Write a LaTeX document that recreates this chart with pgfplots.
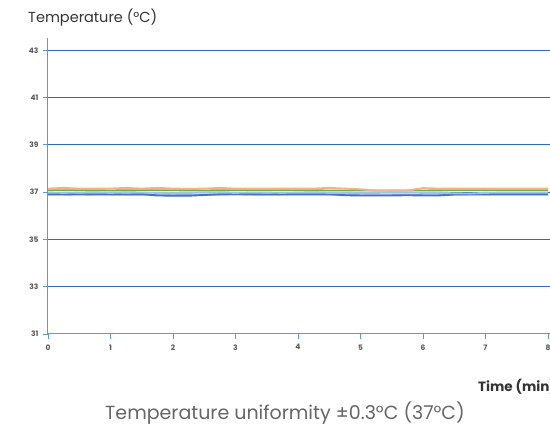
\documentclass[border=0pt]{standalone}
\usepackage{pgfplots}
\pgfplotsset{compat=1.18}
\usepackage{fontspec}
\setmainfont{Poppins}
\definecolor{axisblue}{HTML}{5B9BD5}
\definecolor{gridblue}{HTML}{2E6DB4}
\definecolor{lorange}{HTML}{F4B183}
\definecolor{lgreen}{HTML}{70AD47}
\definecolor{lblue}{HTML}{9DC3E6}
\definecolor{dblue}{HTML}{4472C4}
\definecolor{lav}{HTML}{B4C0E4}
\definecolor{txt}{HTML}{404040}
\begin{document}
\begin{tikzpicture}
\useasboundingbox (0,0) rectangle (550pt,-428pt);
\clip (0,0) rectangle (550pt,-428pt);
\begin{axis}[
  at={(48pt,-334pt)}, anchor=south west,
  scale only axis, width=502.5pt, height=296pt,
  xmin=0, xmax=8.04, ymin=31, ymax=43.52,
  xtick={0,1,2,3,4,5,6,7,8},
  ytick={31,33,35,37,39,41,43},
  extra y ticks={33,35,37,39,41,43},
  extra y tick labels={},
  extra y tick style={grid=major, major tick length=0pt},
  axis x line=bottom, axis y line=left,
  axis line style={draw=axisblue, line width=1pt, -},
  tick style={draw=axisblue, line width=0.8pt},
  tick align=outside, major tick length=5pt,
  major grid style={draw=gridblue, line width=0.8pt},
  /pgf/number format/assume math mode=true,
  ticklabel style={font=\fontsize{7.5}{9}\selectfont\bfseries, text=black!65},
  yticklabel style={xshift=-1pt},
  xticklabel style={yshift=-2pt},
  every axis plot/.append style={line width=1.9pt, no markers},
]
\addplot[lav] coordinates {
(0,36.88)(0.5,36.89)(1,36.88)(1.5,36.88)(2,36.87)(2.5,36.88)(3,36.89)(3.5,36.88)(4,36.88)(4.5,36.88)(5,36.87)(5.5,36.88)(6,36.88)(6.5,36.89)(7,36.88)(7.5,36.88)(8,36.88)};
\addplot[dblue] coordinates {
(0,36.93)(0.25,36.92)(0.5,36.91)(0.75,36.92)(1,36.92)(1.25,36.91)(1.5,36.92)(1.75,36.86)(2,36.85)(2.25,36.85)(2.5,36.88)(2.75,36.92)(3,36.92)(3.25,36.92)(3.5,36.91)(3.75,36.92)(4,36.92)(4.25,36.92)(4.5,36.92)(4.75,36.87)(5,36.86)(5.25,36.86)(5.5,36.86)(5.75,36.87)(6,36.86)(6.25,36.86)(6.5,36.9)(6.75,36.92)(7,36.92)(7.25,36.92)(7.5,36.92)(7.75,36.92)(8,36.92)};
\addplot[lblue] coordinates {
(0,36.98)(0.25,36.97)(0.5,36.98)(0.75,36.98)(1,36.97)(1.25,36.98)(1.5,36.98)(1.75,36.97)(2,36.96)(2.25,36.97)(2.5,36.98)(2.75,36.98)(3,36.97)(3.25,36.98)(3.5,36.98)(3.75,36.97)(4,36.98)(4.25,36.98)(4.5,36.97)(4.75,36.97)(5,36.96)(5.25,36.97)(5.5,36.98)(5.75,36.98)(6,36.97)(6.25,36.97)(6.5,36.95)(6.75,36.94)(7,36.97)(7.25,36.98)(7.5,36.98)(7.75,36.98)(8,36.98)};
\addplot[lgreen] coordinates {
(0,37.08)(0.5,37.08)(1,37.07)(1.5,37.08)(2,37.08)(2.5,37.07)(3,37.08)(3.5,37.08)(4,37.08)(4.5,37.07)(5,37.07)(5.5,37.07)(6,37.07)(6.5,37.08)(7,37.08)(7.5,37.08)(8,37.08)};
\addplot[lorange] coordinates {
(0,37.15)(0.25,37.18)(0.5,37.15)(0.75,37.15)(1,37.15)(1.25,37.18)(1.5,37.15)(1.75,37.18)(2,37.15)(2.25,37.14)(2.5,37.15)(2.75,37.18)(3,37.15)(3.25,37.15)(3.5,37.15)(3.75,37.15)(4,37.15)(4.25,37.15)(4.5,37.18)(4.75,37.15)(5,37.12)(5.25,37.06)(5.5,37.06)(5.75,37.07)(6,37.17)(6.25,37.15)(6.5,37.15)(6.75,37.15)(7,37.15)(7.25,37.15)(7.5,37.15)(7.75,37.15)(8,37.15)};
\end{axis}
\node[anchor=base west, inner sep=0pt, font=\fontsize{14.5}{17}\selectfont, text=black!80] at (28pt,-23pt) {Temperature (°C)};
\node[anchor=base west, inner sep=0pt, font=\fontsize{13.5}{16}\selectfont\bfseries, text=black!80] at (478pt,-391pt) {Time (min)};
\node[anchor=base, inner sep=0pt, font=\fontsize{19}{22}\selectfont, text=black!60] at (285pt,-419pt) {Temperature uniformity ±0.3°C (37°C)};
\end{tikzpicture}
\end{document}
